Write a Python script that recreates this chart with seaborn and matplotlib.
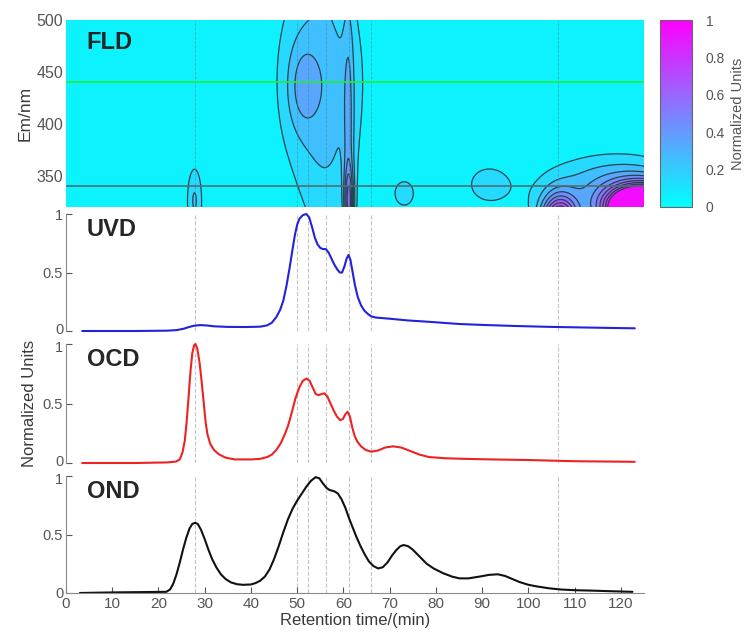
import numpy as np
import seaborn as sns
import matplotlib.pyplot as plt
from matplotlib.cm import ScalarMappable
from matplotlib.colors import Normalize
from matplotlib.transforms import ScaledTranslation

sns.set_style("ticks")
plt.rcParams['font.family'] = ['Liberation Sans', 'DejaVu Sans']

# ---- detector traces ----
rt_uvd = [3.5, 15, 22, 24, 25.5, 26.5, 27.5, 28.5, 29.3, 30.5, 32, 35, 39, 42, 43.5,
          44.5, 45.5, 46.3, 47, 47.7, 48.4, 49, 49.5, 50, 50.5, 51.2, 52, 52.6, 53.2,
          53.8, 54.4, 55, 55.6, 56.2, 56.8, 57.4, 58, 58.6, 59.2, 59.7, 60.2, 60.7,
          61.1, 61.5, 62, 62.5, 63.1, 63.8, 64.5, 65.3, 66, 67, 70, 74, 78, 85, 90,
          97, 105, 112, 118, 123]
uvd = [0, 0, 0.003, 0.008, 0.02, 0.033, 0.043, 0.049, 0.05, 0.047, 0.04, 0.035,
       0.034, 0.037, 0.048, 0.07, 0.12, 0.18, 0.26, 0.39, 0.55, 0.70, 0.82, 0.91,
       0.96, 0.99, 1.0, 0.97, 0.89, 0.80, 0.74, 0.71, 0.70, 0.70, 0.67, 0.62, 0.57,
       0.53, 0.50, 0.50, 0.55, 0.62, 0.65, 0.61, 0.50, 0.39, 0.29, 0.22, 0.175,
       0.145, 0.125, 0.115, 0.105, 0.09, 0.08, 0.06, 0.052, 0.043, 0.035, 0.03,
       0.026, 0.023]

rt_ocd = [3.5, 15, 22, 23.8, 24.6, 25.2, 25.7, 26.1, 26.5, 26.9, 27.3, 27.7, 28.0,
          28.4, 28.9, 29.4, 29.8, 30.2, 30.6, 31.2, 32, 33, 34.5, 36.5, 40, 42, 43.5,
          44.5, 45.5, 46.5, 47.3, 48, 48.8, 49.6, 50.4, 51.2, 52, 52.7, 53.4, 54,
          54.6, 55.3, 55.9, 56.5, 57.2, 57.9, 58.6, 59.3, 59.9, 60.4, 60.9, 61.4,
          61.9, 62.4, 63, 63.8, 64.8, 66, 67.5, 69, 70.7, 72.5, 74.5, 76.5, 78.5, 82,
          86, 92, 100, 110, 123]
ocd = [0, 0, 0.005, 0.012, 0.03, 0.09, 0.19, 0.35, 0.55, 0.76, 0.92, 0.99, 1.0,
       0.96, 0.84, 0.66, 0.50, 0.34, 0.24, 0.16, 0.11, 0.075, 0.045, 0.03, 0.03,
       0.035, 0.05, 0.07, 0.11, 0.17, 0.24, 0.31, 0.42, 0.54, 0.63, 0.69, 0.71,
       0.69, 0.63, 0.58, 0.57, 0.58, 0.585, 0.56, 0.50, 0.44, 0.39, 0.36, 0.37,
       0.41, 0.43, 0.39, 0.30, 0.23, 0.18, 0.14, 0.11, 0.095, 0.105, 0.13, 0.14,
       0.13, 0.10, 0.07, 0.05, 0.04, 0.035, 0.03, 0.025, 0.015, 0.01]

rt_ond = [3, 10, 21.7, 22.5, 23.2, 23.9, 24.6, 25.3, 26, 26.7, 27.3, 27.9, 28.5,
          29.2, 30, 30.8, 31.6, 32.5, 33.5, 34.5, 35.7, 37, 38.3, 40, 41, 42, 43, 44,
          45, 46, 47, 48, 49, 50, 51, 52, 53, 54, 54.8, 55.5, 56.3, 57, 58, 58.8,
          59.6, 60.4, 61.2, 62, 62.8, 63.7, 64.6, 65.5, 66.5, 67.5, 68.5, 69.5, 70.5,
          71.5, 72.3, 73, 74, 75, 76.5, 78, 79.5, 81.5, 83.5, 85.1, 87, 89.4, 91.5,
          93.4, 95, 96.5, 98, 100, 102, 104.5, 107, 110, 114, 118, 122.5]
ond = [0, 0.005, 0.01, 0.03, 0.08, 0.16, 0.26, 0.37, 0.47, 0.55, 0.59, 0.60, 0.59,
       0.54, 0.46, 0.37, 0.29, 0.22, 0.16, 0.12, 0.09, 0.075, 0.07, 0.073, 0.085,
       0.105, 0.14, 0.20, 0.29, 0.40, 0.52, 0.63, 0.72, 0.79, 0.85, 0.91, 0.96,
       0.99, 0.98, 0.94, 0.90, 0.88, 0.87, 0.85, 0.80, 0.73, 0.64, 0.56, 0.48, 0.40,
       0.33, 0.27, 0.23, 0.21, 0.22, 0.26, 0.32, 0.37, 0.40, 0.41, 0.40, 0.37, 0.31,
       0.25, 0.21, 0.17, 0.14, 0.125, 0.125, 0.14, 0.155, 0.16, 0.145, 0.12, 0.095,
       0.07, 0.055, 0.04, 0.03, 0.024, 0.02, 0.015, 0.01]

# ---- FLD map: fluorescence peaks ----
#           LMW   core  broad  base  ridge  ridge  top   blob   blob   arc   shelf  shelf2 corner
peak_rt = [27.8, 51.0, 55.0, 57.0, 61.1, 61.2, 57.7, 73.2, 91.2, 106.7, 112.0, 122.0, 125.0]
peak_em = [326, 435, 445, 320, 380, 325, 520, 333, 342, 305, 330, 345, 318]
peak_rt_w = [1.25, 2.2, 6.4, 4.5, 0.8, 0.7, 1.2, 2.6, 4.0, 2.6, 9.0, 8.0, 5.0]
peak_em_w = [25, 28, 75, 60, 90, 22, 12, 15, 16, 17, 25, 18, 14]
peak_h = [0.21, 0.14, 0.27, 0.08, 0.20, 0.40, 0.03, 0.13, 0.14, 1.0, 0.18, 0.20, 2.4]

marker_rt = [28, 50, 52.3, 56.3, 61.2, 66, 106.5]
em_lines = [440, 340]

t = np.arange(0, 125.01, 0.25)
em = np.arange(320, 500.01, 1.0)
T, E = np.meshgrid(t, em)
Z = np.zeros_like(T)
for r, e, sr, se, h in zip(peak_rt, peak_em, peak_rt_w, peak_em_w, peak_h):
    Z += h * np.exp(-0.5 * ((T - r) / sr) ** 2 - 0.5 * ((E - e) / se) ** 2)
Z = np.clip(Z, 0, 1)

fig = plt.figure(figsize=(7.44, 6.37), dpi=100)
W, H = 744, 637


def box(x0, y0, x1, y1):
    return [x0 / W, 1 - y1 / H, (x1 - x0) / W, (y1 - y0) / H]


ax_fld = fig.add_axes(box(66, 20, 644, 207))
ax_uvd = fig.add_axes(box(66, 214, 644, 331))
ax_ocd = fig.add_axes(box(66, 344, 644, 463))
ax_ond = fig.add_axes(box(66, 476, 644, 593))
cax = fig.add_axes(box(660, 20, 692, 207))

tick_col = '#555555'
spine_col = '#8a8a8a'
label_col = '#3a3a3a'
levels = np.linspace(0, 1, 11)

ax_fld.contourf(T, E, Z, levels=levels, cmap='cool', vmin=0, vmax=1)
ax_fld.contour(T, E, Z, levels=levels[1:-1], colors='#22464c', linewidths=0.9)
for r in marker_rt:
    ax_fld.axvline(r, color='#3a8c99', lw=0.6, ls='--', alpha=0.6)
ax_fld.axhline(em_lines[0], color='#22ee33', lw=1.2)
ax_fld.axhline(em_lines[1], color='#4d6f72', lw=1.2)
ax_fld.set_xlim(0, 125)
ax_fld.set_ylim(320, 500)
ax_fld.set_yticks([350, 400, 450, 500])
ax_fld.set_xticks([])
ax_fld.set_ylabel('Em/nm', fontsize=12.5, color=label_col, labelpad=3)
ax_fld.text(4.5, 489, 'FLD', fontsize=17, fontweight='bold', va='top')
for s in ax_fld.spines.values():
    s.set_visible(False)
ax_fld.tick_params(axis='y', direction='in', colors=tick_col, labelsize=11.5,
                   length=4, pad=2, labelcolor=tick_col)

traces = [(ax_uvd, rt_uvd, uvd, '#2222dd', 'UVD'),
          (ax_ocd, rt_ocd, ocd, '#ee2222', 'OCD'),
          (ax_ond, rt_ond, ond, '#111111', 'OND')]
nudge = 0.028  # inches: keeps the stacked "0" / "1" tick labels apart
for ax, x, y, c, name in traces:
    for r in marker_rt:
        ax.axvline(r, color='#c4c4c4', lw=0.8, ls='--', zorder=0)
    sns.lineplot(x=x, y=y, ax=ax, color=c, lw=1.5, clip_on=False)
    ax.set_xlim(0, 125)
    ax.set_ylim(0, 1)
    ax.set_yticks([0, 0.5, 1])
    ax.set_yticklabels(['0', '0.5', '1'])
    ax.text(4.5, 0.97, name, fontsize=17, fontweight='bold', va='top')
    sns.despine(ax=ax, top=True, right=True, bottom=(ax is not ax_ond))
    ax.spines['left'].set_color(spine_col)
    ax.tick_params(direction='in', colors=tick_col, labelsize=10.5, length=4,
                   pad=2, labelcolor=tick_col)
    labs = ax.get_yticklabels()
    if ax is not ax_ond:
        ax.set_xticks([])
        labs[0].set_transform(labs[0].get_transform()
                              + ScaledTranslation(0, nudge, fig.dpi_scale_trans))
    if ax is not ax_uvd:
        labs[2].set_transform(labs[2].get_transform()
                              + ScaledTranslation(0, -nudge, fig.dpi_scale_trans))

ax_ond.spines['bottom'].set_color(spine_col)
ax_ond.set_xticks(range(0, 121, 10))
ax_ond.tick_params(axis='x', labelsize=11, pad=3)
ax_ond.set_xlabel('Retention time/(min)', fontsize=12, color=label_col, labelpad=1)
ax_ocd.set_ylabel('Normalized Units', fontsize=12, color=label_col, labelpad=4)

cb = fig.colorbar(ScalarMappable(norm=Normalize(0, 1), cmap='cool'), cax=cax)
cb.set_ticks([0, 0.2, 0.4, 0.6, 0.8, 1])
cb.set_ticklabels(['0', '0.2', '0.4', '0.6', '0.8', '1'])
cb.outline.set_edgecolor('#666666')
cb.ax.tick_params(length=0, colors=tick_col, labelsize=10, pad=10,
                  labelcolor=tick_col)
cb.set_label('Normalized Units', fontsize=10.5, color='#555555', labelpad=4)

fig.savefig('out.png', dpi=100)
